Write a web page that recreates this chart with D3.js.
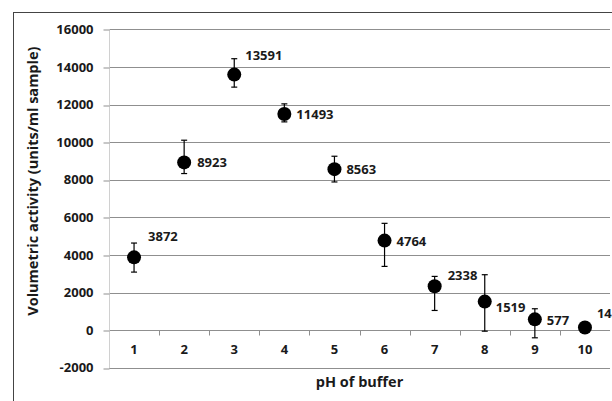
<!DOCTYPE html>
<html>
<head>
<meta charset="utf-8">
<script src="https://cdn.jsdelivr.net/npm/d3@7"></script>
<style>
  html, body { margin: 0; padding: 0; background: #fff; }
  svg { display: block; font-family: "Open Sans", "Noto Sans", sans-serif; }
</style>
</head>
<body>
<svg id="chart" width="612" height="401"></svg>
<script>
// pH of buffer vs volumetric activity
var phValues = [1, 2, 3, 4, 5, 6, 7, 8, 9, 10];
var activity = [3872, 8923, 13591, 11493, 8563, 4764, 2338, 1519, 577, 143];
var errHigh = [4634, 10102, 14436, 12035, 9250, 5682, 2860, 2950, 1140, 143];
var errLow = [3089, 8329, 12925, 11077, 7882, 3392, 1049, -53, -405, 143];
var yTicks = [-2000, 0, 2000, 4000, 6000, 8000, 10000, 12000, 14000, 16000];

// manual label nudges (like excel's dragged labels)
var labelShift = [[14, -21], [13, 0], [11, -19], [12, 0], [12, 0], [12, 1], [13, -11], [11, 6], [12, 1], [12, -14]];

var svg = d3.select("#chart");
// note: "top" clashes with window.top, so plot edges get their own names
var plotL = 109, plotR = 610, plotT = 29.3, plotB = 367.8;

var x = d3.scaleBand().domain(phValues).range([plotL, plotR]).padding(0);
var y = d3.scaleLinear().domain([-2000, 16000]).range([plotB, plotT]);

// outer frame, cut off at right / bottom
svg.append("rect")
    .attr("x", 13.5).attr("y", 12.5)
    .attr("width", 800).attr("height", 600)
    .attr("fill", "none").attr("stroke", "#444").attr("stroke-width", 1);

// horizontal gridlines
svg.append("g")
    .selectAll("line")
    .data(yTicks)
    .join("line")
    .attr("x1", plotL).attr("x2", plotR)
    .attr("y1", d => Math.round(y(d)) + 0.5)
    .attr("y2", d => Math.round(y(d)) + 0.5)
    .attr("stroke", "#8f8f8f").attr("stroke-width", 1);

// y axis (plain hyphen for the negative label, excel style)
var yAxis = svg.append("g")
    .attr("transform", `translate(${plotL + 0.5},0)`)
    .call(d3.axisLeft(y).tickValues(yTicks).tickSize(6).tickPadding(10).tickFormat(d => String(d)));
yAxis.select(".domain").attr("stroke", "#d0d0d0").attr("d", `M0,${Math.round(plotT)}V${Math.round(plotB) + 0.5}`);
yAxis.selectAll(".tick line").attr("stroke", "#8f8f8f")
    .attr("transform", d => `translate(0,${Math.round(y(d)) + 0.5 - y(d)})`);
yAxis.selectAll(".tick text")
    .attr("font-size", 13).attr("font-weight", "bold").attr("fill", "#1a1a1a")
    .attr("font-family", "'Open Sans', sans-serif");

// x axis sitting on zero
var xAxis = svg.append("g")
    .attr("transform", `translate(0,${Math.round(y(0)) + 0.5})`)
    .call(d3.axisBottom(x).tickSize(0).tickPadding(14));
xAxis.select(".domain").remove();
xAxis.selectAll(".tick text")
    .attr("font-size", 13).attr("font-weight", "bold").attr("fill", "#1a1a1a")
    .attr("font-family", "'Open Sans', sans-serif");
// tick marks between categories
xAxis.append("g")
    .selectAll("line")
    .data(phValues.slice(1))
    .join("line")
    .attr("x1", d => Math.round(x(d)) + 0.5).attr("x2", d => Math.round(x(d)) + 0.5)
    .attr("y1", 0).attr("y2", 5)
    .attr("stroke", "#8f8f8f");

// error bars
var cx = d => x(d) + x.bandwidth() / 2;
var eb = svg.append("g").attr("stroke", "#000").attr("stroke-width", 1.2);
eb.selectAll(".stem")
    .data(phValues)
    .join("line")
    .attr("x1", d => cx(d)).attr("x2", d => cx(d))
    .attr("y1", (d, i) => y(errHigh[i])).attr("y2", (d, i) => y(errLow[i]));
eb.selectAll(".capHi")
    .data(phValues)
    .join("line")
    .attr("x1", d => cx(d) - 3).attr("x2", d => cx(d) + 3)
    .attr("y1", (d, i) => y(errHigh[i])).attr("y2", (d, i) => y(errHigh[i]));
eb.selectAll(".capLo")
    .data(phValues)
    .join("line")
    .attr("x1", d => cx(d) - 3).attr("x2", d => cx(d) + 3)
    .attr("y1", (d, i) => y(errLow[i])).attr("y2", (d, i) => y(errLow[i]));

// points
svg.append("g")
    .selectAll("circle")
    .data(phValues)
    .join("circle")
    .attr("cx", d => cx(d))
    .attr("cy", (d, i) => y(activity[i]))
    .attr("r", 7)
    .attr("fill", "#000");

// data labels
svg.append("g")
    .selectAll("text")
    .data(phValues)
    .join("text")
    .attr("x", (d, i) => cx(d) + labelShift[i][0])
    .attr("y", (d, i) => y(activity[i]) + labelShift[i][1])
    .attr("dy", "0.35em")
    .attr("font-size", 13).attr("font-weight", "bold").attr("fill", "#1a1a1a")
    .text((d, i) => activity[i]);

// axis titles
svg.append("text")
    .attr("x", (plotL + plotR) / 2).attr("y", 382)
    .attr("dy", "0.35em")
    .attr("text-anchor", "middle")
    .attr("font-size", 14.5).attr("font-weight", "bold").attr("fill", "#1a1a1a")
    .text("pH of buffer");

svg.append("text")
    .attr("transform", `translate(33,${(plotT + 333) / 2}) rotate(-90)`)
    .attr("dy", "0.35em")
    .attr("text-anchor", "middle")
    .attr("font-size", 14.5).attr("font-weight", "bold").attr("fill", "#1a1a1a")
    .text("Volumetric activity (units/ml sample)");
</script>
</body>
</html>
